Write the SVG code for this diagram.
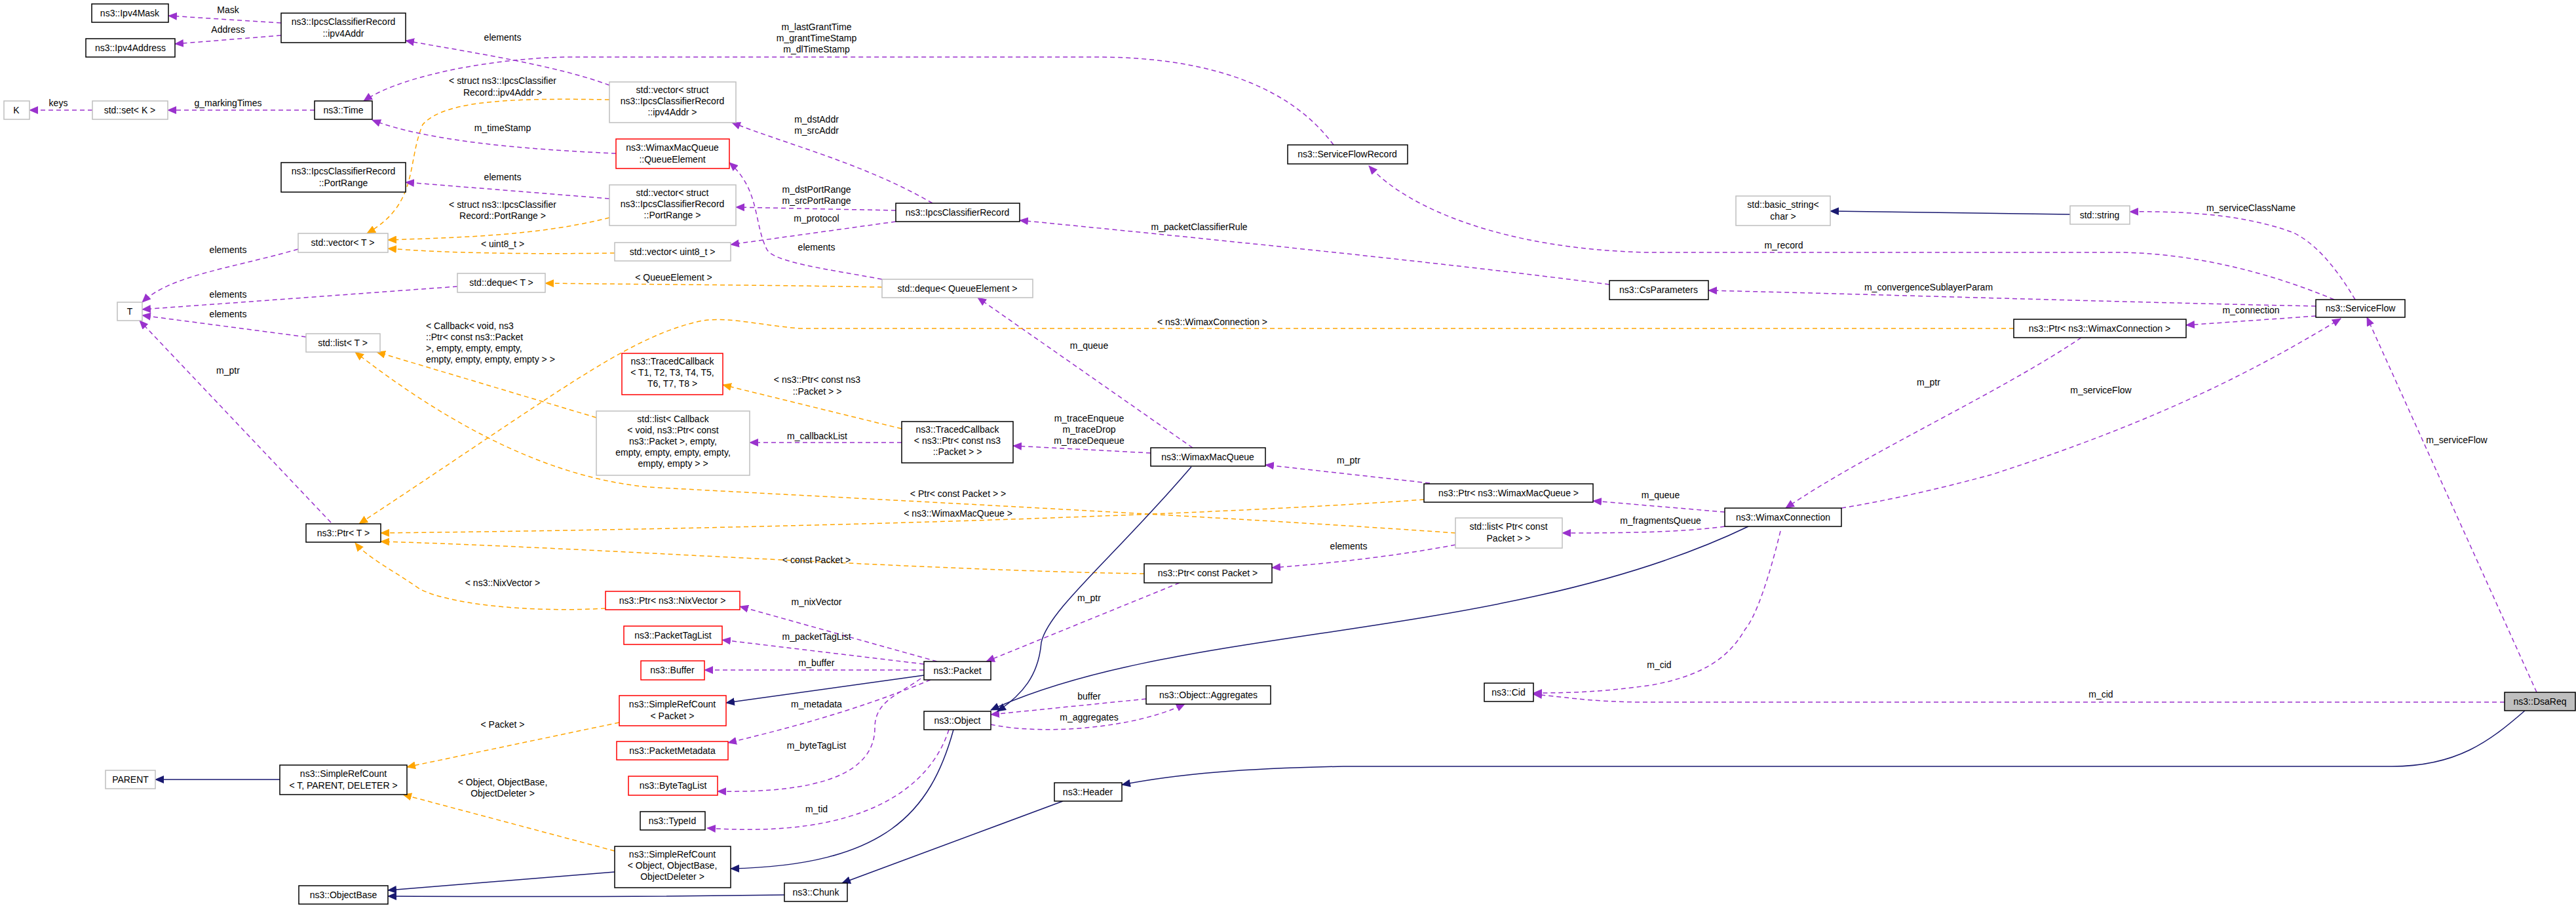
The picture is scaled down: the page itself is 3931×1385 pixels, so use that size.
<svg xmlns="http://www.w3.org/2000/svg" width="3931" height="1385" viewBox="0 0 3931 1385">
<style>
text{font-family:"Liberation Sans",Arial,sans-serif;font-size:14px;fill:#000;text-anchor:middle}
.n rect{fill:#fff;stroke:#000;stroke-width:1.5}
.g rect{fill:#fff;stroke:#bfbfbf;stroke-width:1.5}
.r rect{fill:#fff;stroke:#ff0000;stroke-width:1.5}
.p{fill:none;stroke:#9a32cd;stroke-width:1.5;stroke-dasharray:7,5;marker-end:url(#ap)}
.o{fill:none;stroke:#ffa500;stroke-width:1.5;stroke-dasharray:7,5;marker-end:url(#ao)}
.s{fill:none;stroke:#191970;stroke-width:1.5;marker-end:url(#as)}
</style>
<defs>
<marker id="ap" markerUnits="userSpaceOnUse" markerWidth="14" markerHeight="12" refX="13" refY="6" orient="auto"><path d="M0,0L14,6L0,12z" fill="#9a32cd"/></marker>
<marker id="ao" markerUnits="userSpaceOnUse" markerWidth="14" markerHeight="12" refX="13" refY="6" orient="auto"><path d="M0,0L14,6L0,12z" fill="#ffa500"/></marker>
<marker id="as" markerUnits="userSpaceOnUse" markerWidth="14" markerHeight="12" refX="13" refY="6" orient="auto"><path d="M0,0L14,6L0,12z" fill="#191970"/></marker>
</defs>
<rect width="3931" height="1385" fill="#fff"/>
<g id="edges">
<path class="p" d="M429,35L257,24"/><text x="348" y="20">Mask</text>
<path class="p" d="M429,54L267,67"/><text x="348" y="50">Address</text>
<path class="p" d="M930,130C850,100 720,80 619,62"/><text x="767" y="62">elements</text>
<path class="p" d="M2035,221C1960,120 1820,87 1673,87L880,87C780,86 620,110 555,154"/>
<text x="1246" y="46">m_lastGrantTime</text><text x="1246" y="63">m_grantTimeStamp</text><text x="1246" y="80">m_dlTimeStamp</text>
<path class="p" d="M141,168L45,168"/><text x="89" y="162">keys</text>
<path class="p" d="M480,168L256,168"/><text x="348" y="162">g_markingTimes</text>
<path class="o" d="M930,152C800,150 680,150 645,190C620,250 640,310 560,356"/><text x="767" y="128">&lt; struct ns3::IpcsClassifier</text><text x="767" y="146">Record::ipv4Addr &gt;</text>
<path class="p" d="M940,234C800,228 650,215 568,183"/><text x="767" y="200">m_timeStamp</text>
<path class="p" d="M930,303L619,278"/><text x="767" y="275">elements</text>
<path class="o" d="M930,332C820,360 700,362 592,366"/><text x="767" y="317">&lt; struct ns3::IpcsClassifier</text><text x="767" y="334">Record::PortRange &gt;</text>
<path class="o" d="M938,386C800,388 680,386 592,379"/><text x="767" y="377">&lt; uint8_t &gt;</text>
<path class="p" d="M455,380C350,410 260,420 217,461"/><text x="348" y="386">elements</text>
<path class="p" d="M698,437L217,472"/><text x="348" y="454">elements</text>
<path class="p" d="M467,514L217,481"/><text x="348" y="484">elements</text>
<path class="p" d="M505,797L213,489"/><text x="348" y="570">m_ptr</text>
<path class="p" d="M1423,310C1320,250 1200,220 1117,187"/><text x="1246" y="187">m_dstAddr</text><text x="1246" y="204">m_srcAddr</text>
<path class="p" d="M1367,321L1123,316"/><text x="1246" y="294">m_dstPortRange</text><text x="1246" y="311">m_srcPortRange</text>
<path class="p" d="M1367,338L1115,373"/><text x="1246" y="338">m_protocol</text>
<path class="p" d="M1346,426C1260,410 1180,400 1170,380C1150,340 1160,290 1113,248"/><text x="1246" y="382">elements</text>
<path class="o" d="M1346,438C1200,435 1000,434 832,432"/><text x="1028" y="428">&lt; QueueElement &gt;</text>
<path class="p" d="M2456,434C2200,400 1800,360 1556,336"/><text x="1830" y="351">m_packetClassifierRule</text>
<path class="p" d="M1820,683L1492,454"/><text x="1662" y="532">m_queue</text>
<path class="p" d="M1756,691L1546,680"/><text x="1662" y="643">m_traceEnqueue</text><text x="1662" y="660">m_traceDrop</text><text x="1662" y="677">m_traceDequeue</text>
<path class="p" d="M1376,675L1144,675"/><text x="1247" y="670">m_callbackList</text>
<path class="o" d="M1376,654L1103,587"/><text x="1247" y="584">&lt; ns3::Ptr&lt; const ns3</text><text x="1247" y="602">::Packet &gt; &gt;</text>
<path class="o" d="M910,637L575,537"/>
<text x="650" y="502" style="text-anchor:start">&lt; Callback&lt; void, ns3</text><text x="650" y="519" style="text-anchor:start">::Ptr&lt; const ns3::Packet</text><text x="650" y="536" style="text-anchor:start">&gt;, empty, empty, empty,</text><text x="650" y="553" style="text-anchor:start">empty, empty, empty, empty &gt; &gt;</text>
<path class="o" d="M2221,813C1900,790 1300,760 990,743C850,730 700,660 542,537"/><text x="1462" y="758">&lt; Ptr&lt; const Packet &gt; &gt;</text>
<path class="o" d="M2173,762C1900,782 1300,805 581,813"/><text x="1462" y="788">&lt; ns3::WimaxMacQueue &gt;</text>
<path class="o" d="M1746,875C1400,870 900,835 581,826"/><text x="1246" y="859">&lt; const Packet &gt;</text>
<path class="o" d="M924,928C800,935 680,920 640,898C600,870 560,850 542,828"/><text x="767" y="894">&lt; ns3::NixVector &gt;</text>
<path class="o" d="M3073,501L1220,501C1150,495 1100,480 1059,492C950,520 850,600 548,799"/><text x="1850" y="496">&lt; ns3::WimaxConnection &gt;</text>
<path class="p" d="M2182,737L1931,709"/><text x="2058" y="707">m_ptr</text>
<path class="p" d="M2632,781L2431,764"/><text x="2534" y="760">m_queue</text>
<path class="p" d="M2632,803C2560,813 2450,813 2384,813"/><text x="2534" y="799">m_fragmentsQueue</text>
<path class="p" d="M2221,831C2120,850 2020,860 1941,866"/><text x="2058" y="838">elements</text>
<path class="p" d="M1800,889L1505,1009"/><text x="1662" y="917">m_ptr</text>
<path class="p" d="M1430,1009L1129,925"/><text x="1246" y="923">m_nixVector</text>
<path class="p" d="M1410,1013L1102,976"/><text x="1246" y="976">m_packetTagList</text>
<path class="p" d="M1410,1022L1075,1022"/><text x="1246" y="1016">m_buffer</text>
<path class="s" d="M1410,1030L1108,1072"/>
<path class="p" d="M1420,1037C1340,1070 1250,1100 1111,1133"/><text x="1246" y="1079">m_metadata</text>
<path class="p" d="M1405,1035C1370,1060 1335,1070 1335,1110C1335,1180 1250,1210 1095,1207"/><text x="1246" y="1142">m_byteTagList</text>
<path class="p" d="M1448,1113C1420,1200 1320,1280 1079,1263"/><text x="1246" y="1239">m_tid</text>
<path class="s" d="M1455,1113C1420,1240 1350,1320 1115,1325"/>
<path class="p" d="M1749,1066L1512,1090"/><text x="1662" y="1067">buffer</text>
<path class="p" d="M1512,1105C1580,1120 1720,1115 1808,1074"/><text x="1662" y="1099">m_aggregates</text>
<path class="s" d="M1818,712C1700,850 1600,930 1589,980C1585,1030 1560,1060 1522,1085"/>
<path class="s" d="M2668,803C2300,980 1800,950 1512,1083"/>
<path class="o" d="M945,1102L621,1170"/><text x="767" y="1110">&lt; Packet &gt;</text>
<path class="o" d="M938,1298L615,1212"/><text x="767" y="1198">&lt; Object, ObjectBase,</text><text x="767" y="1215">ObjectDeleter &gt;</text>
<path class="s" d="M427,1189L237,1189"/>
<path class="s" d="M938,1330L592,1358"/>
<path class="s" d="M1197,1365C1000,1368 800,1368 592,1367"/>
<path class="s" d="M1622,1222L1285,1347"/>
<path class="s" d="M3853,1084C3800,1130 3750,1169 3650,1169L2050,1169C1900,1172 1800,1180 1712,1197"/>
<path class="p" d="M3822,1071L2500,1071C2420,1070 2380,1062 2340,1059"/><text x="3206" y="1064">m_cid</text>
<path class="p" d="M2717,810C2700,880 2680,940 2663,960C2640,1000 2603,1030 2520,1045C2450,1055 2400,1057 2340,1057"/><text x="2532" y="1019">m_cid</text>
<path class="p" d="M3871,1056L3612,484"/><text x="3749" y="676">m_serviceFlow</text>
<path class="p" d="M2810,775C2900,760 2980,740 3039,724C3300,640 3450,560 3572,486"/><text x="3206" y="600">m_serviceFlow</text>
<path class="p" d="M3176,515C3050,600 2850,690 2725,775"/><text x="2943" y="588">m_ptr</text>
<path class="p" d="M3534,482L3336,496"/><text x="3435" y="478">m_connection</text>
<path class="p" d="M3534,467C3200,460 2900,450 2607,443"/><text x="2943" y="443">m_convergenceSublayerParam</text>
<path class="p" d="M3562,457C3450,410 3330,385 3230,385L2513,385C2300,380 2150,320 2089,253"/><text x="2722" y="379">m_record</text>
<path class="p" d="M3594,457C3560,400 3530,370 3500,355C3420,325 3320,322 3250,323"/><text x="3435" y="322">m_serviceClassName</text>
<path class="s" d="M3159,327L2793,322"/>
</g>
<g id="Ipv4Mask" class="n"><rect x="140" y="6" width="117" height="28"/><text x="198" y="25">ns3::Ipv4Mask</text></g>
<g id="Ipv4Address" class="n"><rect x="131" y="59" width="136" height="28"/><text x="199" y="78">ns3::Ipv4Address</text></g>
<g id="ipv4Addr" class="n"><rect x="429" y="20" width="190" height="45"/><text x="524" y="38">ns3::IpcsClassifierRecord</text><text x="524" y="56">::ipv4Addr</text></g>
<g id="K" class="g"><rect x="6" y="154" width="39" height="28"/><text x="25" y="173">K</text></g>
<g id="set" class="g"><rect x="141" y="154" width="115" height="28"/><text x="198" y="173">std::set&lt; K &gt;</text></g>
<g id="Time" class="n"><rect x="480" y="154" width="88" height="28"/><text x="524" y="173">ns3::Time</text></g>
<g id="vecIpv4" class="g"><rect x="930" y="125" width="193" height="62"/><text x="1026" y="142">std::vector&lt; struct</text><text x="1026" y="159">ns3::IpcsClassifierRecord</text><text x="1026" y="176">::ipv4Addr &gt;</text></g>
<g id="QueueElement" class="r"><rect x="940" y="212" width="173" height="45"/><text x="1026" y="230">ns3::WimaxMacQueue</text><text x="1026" y="248">::QueueElement</text></g>
<g id="PortRange" class="n"><rect x="429" y="248" width="190" height="45"/><text x="524" y="266">ns3::IpcsClassifierRecord</text><text x="524" y="284">::PortRange</text></g>
<g id="vecPort" class="g"><rect x="930" y="282" width="193" height="62"/><text x="1026" y="299">std::vector&lt; struct</text><text x="1026" y="316">ns3::IpcsClassifierRecord</text><text x="1026" y="333">::PortRange &gt;</text></g>
<g id="vecT" class="g"><rect x="455" y="356" width="137" height="29"/><text x="523" y="375">std::vector&lt; T &gt;</text></g>
<g id="vecU8" class="g"><rect x="938" y="370" width="177" height="28"/><text x="1026" y="389">std::vector&lt; uint8_t &gt;</text></g>
<g id="dequeT" class="g"><rect x="698" y="417" width="134" height="29"/><text x="765" y="436">std::deque&lt; T &gt;</text></g>
<g id="T" class="g"><rect x="179" y="461" width="38" height="28"/><text x="198" y="480">T</text></g>
<g id="IpcsClassifierRecord" class="n"><rect x="1367" y="310" width="189" height="28"/><text x="1461" y="329">ns3::IpcsClassifierRecord</text></g>
<g id="dequeQE" class="g"><rect x="1346" y="426" width="230" height="28"/><text x="1461" y="445">std::deque&lt; QueueElement &gt;</text></g>
<g id="listT" class="g"><rect x="467" y="509" width="113" height="28"/><text x="523" y="528">std::list&lt; T &gt;</text></g>
<g id="PtrT" class="n"><rect x="467" y="799" width="114" height="28"/><text x="524" y="818">ns3::Ptr&lt; T &gt;</text></g>
<g id="PtrNix" class="r"><rect x="924" y="902" width="205" height="28"/><text x="1026" y="921">ns3::Ptr&lt; ns3::NixVector &gt;</text></g>
<g id="TracedT" class="r"><rect x="949" y="539" width="154" height="63"/><text x="1026" y="556">ns3::TracedCallback</text><text x="1026" y="573">&lt; T1, T2, T3, T4, T5,</text><text x="1026" y="590">T6, T7, T8 &gt;</text></g>
<g id="listCb" class="g"><rect x="910" y="627" width="234" height="98"/><text x="1027" y="644">std::list&lt; Callback</text><text x="1027" y="661">&lt; void, ns3::Ptr&lt; const</text><text x="1027" y="678">ns3::Packet &gt;, empty,</text><text x="1027" y="695">empty, empty, empty, empty,</text><text x="1027" y="712">empty, empty &gt; &gt;</text></g>
<g id="TracedPkt" class="n"><rect x="1376" y="643" width="170" height="63"/><text x="1461" y="660">ns3::TracedCallback</text><text x="1461" y="677">&lt; ns3::Ptr&lt; const ns3</text><text x="1461" y="694">::Packet &gt; &gt;</text></g>
<g id="WimaxMacQueue" class="n"><rect x="1756" y="683" width="175" height="28"/><text x="1843" y="702">ns3::WimaxMacQueue</text></g>
<g id="PtrCPkt" class="n"><rect x="1746" y="860" width="195" height="29"/><text x="1843" y="879">ns3::Ptr&lt; const Packet &gt;</text></g>
<g id="PtrWMQ" class="n"><rect x="2173" y="738" width="258" height="28"/><text x="2302" y="757">ns3::Ptr&lt; ns3::WimaxMacQueue &gt;</text></g>
<g id="listPtrPkt" class="g"><rect x="2221" y="790" width="163" height="46"/><text x="2302" y="808">std::list&lt; Ptr&lt; const</text><text x="2302" y="826">Packet &gt; &gt;</text></g>
<g id="WimaxConnection" class="n"><rect x="2632" y="775" width="178" height="28"/><text x="2721" y="794">ns3::WimaxConnection</text></g>
<g id="ServiceFlowRecord" class="n"><rect x="1965" y="221" width="183" height="29"/><text x="2056" y="240">ns3::ServiceFlowRecord</text></g>
<g id="basicString" class="g"><rect x="2649" y="299" width="144" height="45"/><text x="2721" y="317">std::basic_string&lt;</text><text x="2721" y="335">char &gt;</text></g>
<g id="CsParameters" class="n"><rect x="2456" y="428" width="151" height="29"/><text x="2531" y="447">ns3::CsParameters</text></g>
<g id="string" class="g"><rect x="3159" y="314" width="91" height="28"/><text x="3204" y="333">std::string</text></g>
<g id="ServiceFlow" class="n"><rect x="3534" y="457" width="136" height="27"/><text x="3602" y="475">ns3::ServiceFlow</text></g>
<g id="PtrWC" class="n"><rect x="3073" y="487" width="263" height="28"/><text x="3204" y="506">ns3::Ptr&lt; ns3::WimaxConnection &gt;</text></g>
<g id="DsaReq" class="n"><rect x="3822" y="1056" width="108" height="28" style="fill:#bfbfbf"/><text x="3876" y="1075">ns3::DsaReq</text></g>
<g id="Cid" class="n"><rect x="2265" y="1042" width="75" height="28"/><text x="2302" y="1061">ns3::Cid</text></g>
<g id="PacketTagList" class="r"><rect x="952" y="955" width="150" height="28"/><text x="1027" y="974">ns3::PacketTagList</text></g>
<g id="Buffer" class="r"><rect x="978" y="1008" width="97" height="29"/><text x="1026" y="1027">ns3::Buffer</text></g>
<g id="SRCPacket" class="r"><rect x="945" y="1061" width="163" height="46"/><text x="1026" y="1079">ns3::SimpleRefCount</text><text x="1026" y="1097">&lt; Packet &gt;</text></g>
<g id="PacketMetadata" class="r"><rect x="941" y="1131" width="170" height="28"/><text x="1026" y="1150">ns3::PacketMetadata</text></g>
<g id="ByteTagList" class="r"><rect x="959" y="1184" width="136" height="29"/><text x="1027" y="1203">ns3::ByteTagList</text></g>
<g id="TypeId" class="n"><rect x="977" y="1238" width="99" height="28"/><text x="1026" y="1257">ns3::TypeId</text></g>
<g id="SRCObject" class="n"><rect x="938" y="1291" width="177" height="63"/><text x="1026" y="1308">ns3::SimpleRefCount</text><text x="1026" y="1325">&lt; Object, ObjectBase,</text><text x="1026" y="1342">ObjectDeleter &gt;</text></g>
<g id="Chunk" class="n"><rect x="1197" y="1347" width="96" height="28"/><text x="1245" y="1366">ns3::Chunk</text></g>
<g id="Packet" class="n"><rect x="1410" y="1009" width="102" height="28"/><text x="1461" y="1028">ns3::Packet</text></g>
<g id="Object" class="n"><rect x="1410" y="1085" width="102" height="28"/><text x="1461" y="1104">ns3::Object</text></g>
<g id="Header" class="n"><rect x="1609" y="1194" width="103" height="28"/><text x="1660" y="1213">ns3::Header</text></g>
<g id="Aggregates" class="n"><rect x="1749" y="1046" width="190" height="28"/><text x="1844" y="1065">ns3::Object::Aggregates</text></g>
<g id="PARENT" class="g"><rect x="161" y="1175" width="76" height="28"/><text x="199" y="1194">PARENT</text></g>
<g id="SRCT" class="n"><rect x="427" y="1167" width="194" height="45"/><text x="524" y="1185">ns3::SimpleRefCount</text><text x="524" y="1203">&lt; T, PARENT, DELETER &gt;</text></g>
<g id="ObjectBase" class="n"><rect x="456" y="1351" width="136" height="28"/><text x="524" y="1370">ns3::ObjectBase</text></g>
</svg>
